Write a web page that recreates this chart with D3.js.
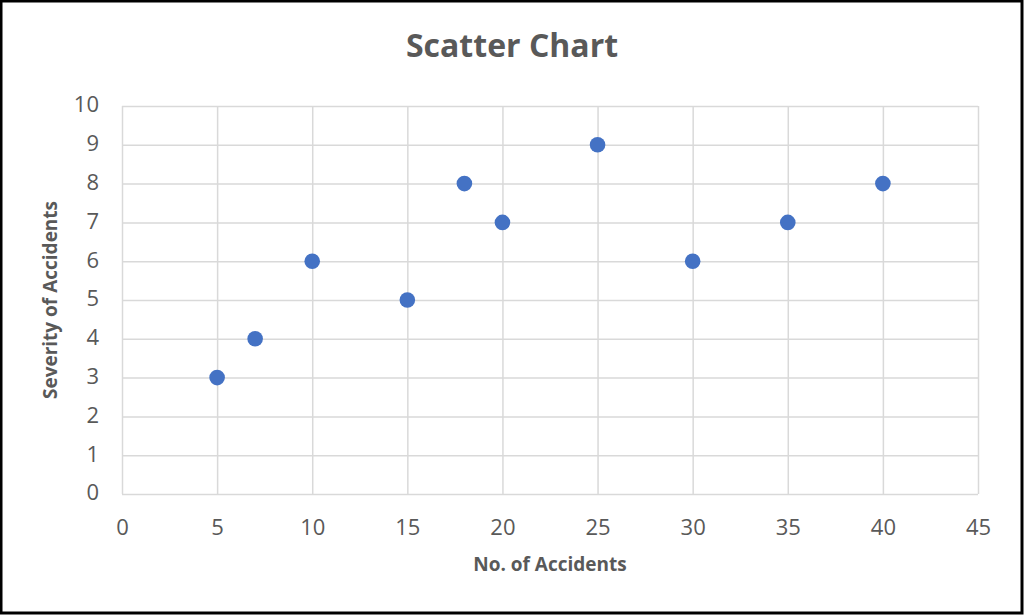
<!DOCTYPE html>
<html><head><meta charset="utf-8">
<script src="https://cdn.jsdelivr.net/npm/d3@7"></script>
<style>
html,body{margin:0;padding:0;background:#fff;}
svg{display:block;}
</style></head>
<body>
<svg id="chart" width="1024" height="615"></svg>
<script>
const xValues = [5, 7, 10, 15, 18, 20, 25, 30, 35, 40];
const yValues = [3, 4, 6, 5, 8, 7, 9, 6, 7, 8];
const xTicks = [0, 5, 10, 15, 20, 25, 30, 35, 40, 45];
const yTicks = [0, 1, 2, 3, 4, 5, 6, 7, 8, 9, 10];
const chartTitle = "Scatter Chart";
const xTitle = "No. of Accidents";
const yTitle = "Severity of Accidents";

const W = 1024, H = 615;
const m = {left: 122, right: 978, top: 106, bottom: 494};
const font = "'Open Sans', sans-serif";
const svg = d3.select("#chart");

svg.append("rect").attr("x", 1).attr("y", 1).attr("width", W - 3).attr("height", H - 3)
  .attr("fill", "#fff").attr("stroke", "#000").attr("stroke-width", 3);

const x = d3.scaleLinear().domain([0, 45]).range([m.left, m.right]);
const y = d3.scaleLinear().domain([0, 10]).range([m.bottom, m.top]);

// gridlines
const gx = svg.append("g").attr("transform", `translate(0,${m.bottom})`)
  .call(d3.axisBottom(x).tickValues(xTicks).tickSize(-(m.bottom - m.top)).tickFormat(d3.format("d")));
gx.select(".domain").remove();
gx.selectAll("line").attr("stroke", "#d9d9d9").attr("stroke-width", 1.5);
gx.selectAll("text").attr("font-family", font).attr("font-size", 22).attr("fill", "#595959")
  .attr("y", 0).attr("dy", 0).attr("transform", "translate(0,35)").attr("dominant-baseline", "middle");

const gy = svg.append("g").attr("transform", `translate(${m.left},0)`)
  .call(d3.axisLeft(y).tickValues(yTicks).tickSize(-(m.right - m.left)).tickFormat(d3.format("d")));
gy.select(".domain").remove();
gy.selectAll("line").attr("stroke", "#d9d9d9").attr("stroke-width", 1.5);
gy.selectAll("text").attr("font-family", font).attr("font-size", 22).attr("fill", "#595959")
  .attr("x", -23).attr("dy", 0).attr("dominant-baseline", "middle");

// points
const pts = xValues.map((v, i) => ({x: v, y: yValues[i]}));
svg.append("g").selectAll("circle").data(pts).join("circle")
  .attr("cx", d => x(d.x)).attr("cy", d => y(d.y)).attr("r", 7.8)
  .attr("fill", "#4472C4");

// titles
svg.append("text").attr("x", 512).attr("y", 48).attr("text-anchor", "middle")
  .attr("dominant-baseline", "middle").attr("font-family", font).attr("font-weight", "bold")
  .attr("font-size", 32).attr("fill", "#595959").text(chartTitle);

svg.append("text").attr("x", (m.left + m.right) / 2).attr("y", 566).attr("text-anchor", "middle")
  .attr("dominant-baseline", "middle").attr("font-family", font).attr("font-weight", "bold")
  .attr("font-size", 19).attr("fill", "#595959").text(xTitle);

svg.append("text").attr("transform", `translate(52,${(m.top + m.bottom) / 2}) rotate(-90)`)
  .attr("text-anchor", "middle").attr("dominant-baseline", "middle").attr("font-family", font)
  .attr("font-weight", "bold").attr("font-size", 19).attr("fill", "#595959").text(yTitle);
</script>
</body></html>
